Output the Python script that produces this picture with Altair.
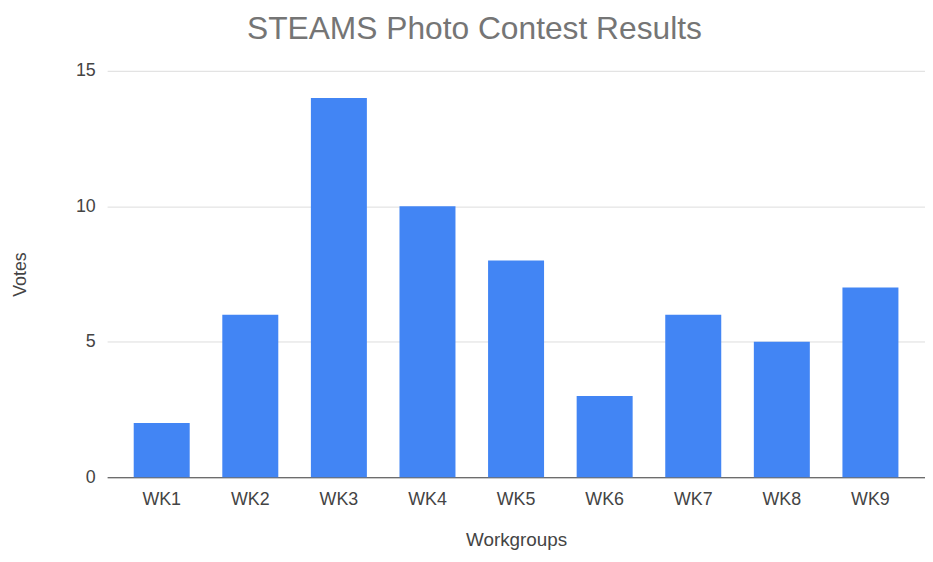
import altair as alt
import pandas as pd

groups = ["WK1", "WK2", "WK3", "WK4", "WK5", "WK6", "WK7", "WK8", "WK9"]
votes = [2, 6, 14, 10, 8, 3, 6, 5, 7]

df = pd.DataFrame({"Workgroups": groups, "Votes": votes})

FONT = "Liberation Sans"

chart = (
    alt.Chart(df)
    .mark_bar(color="#4285F4")
    .encode(
        x=alt.X(
            "Workgroups:N",
            sort=groups,
            scale=alt.Scale(paddingInner=0.368, paddingOuter=0.3),
            axis=alt.Axis(
                title="Workgroups",
                labelAngle=0,
                labelFontSize=18,
                labelColor="#444444",
                labelPadding=13,
                ticks=False,
                domainColor="#444444",
                domainWidth=1.2,
                titleFontSize=19,
                titleFontWeight="normal",
                titleColor="#444444",
                titlePadding=23,
                grid=False,
            ),
        ),
        y=alt.Y(
            "Votes:Q",
            scale=alt.Scale(domain=[0, 15], nice=False),
            axis=alt.Axis(
                title="Votes",
                values=[0, 5, 10, 15],
                labelFontSize=18,
                labelColor="#444444",
                labelPadding=12,
                ticks=False,
                domain=False,
                gridColor="#dddddd",
                titleFontSize=18,
                titleFontWeight="normal",
                titleColor="#444444",
                titlePadding=46,
            ),
        ),
    )
    .properties(
        width=825,
        height=410,
        title=alt.TitleParams(
            "STEAMS Photo Contest Results",
            fontSize=32,
            fontWeight="normal",
            color="#757575",
            font=FONT,
            anchor="middle",
            offset=16,
            dx=-42,
        ),
        autosize=alt.AutoSizeParams(type="none"),
        padding={"left": 100, "top": 61, "right": 0, "bottom": 72},
    )
    .configure(font=FONT)
    .configure_view(stroke=None)
    .configure_axis(labelFont=FONT, titleFont=FONT)
)

chart.save("out.html", embed_options={"renderer": "svg", "actions": False})
